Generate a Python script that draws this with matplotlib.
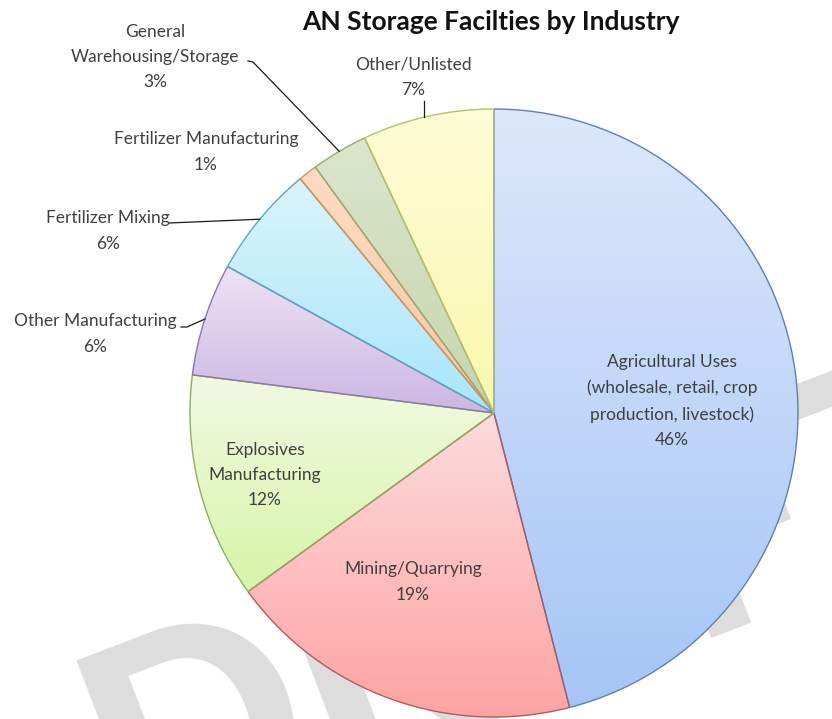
import numpy as np
import matplotlib
matplotlib.use("Agg")
import matplotlib.pyplot as plt
from matplotlib.colors import LinearSegmentedColormap

# Share of ammonium nitrate storage facilities by industry (percent)
categories = [
    "Agricultural Uses\n(wholesale, retail, crop\nproduction, livestock)",
    "Mining/Quarrying",
    "Explosives\nManufacturing",
    "Other Manufacturing",
    "Fertilizer Mixing",
    "Fertilizer Manufacturing",
    "General\nWarehousing/Storage",
    "Other/Unlisted",
]
shares = [46, 19, 12, 6, 6, 1, 3, 7]

top_colors = ["#dde8fb", "#fcdcdc", "#f2f9e4", "#ede3f5", "#dcf4fc", "#fcdcc4", "#dbe5cc", "#fdfdd6"]
bottom_colors = ["#a6c5f6", "#ffa2a2", "#d6f5a6", "#ccb6e3", "#a6e6fa", "#f9c8a2", "#c6d6ad", "#fbf7ae"]
edge_colors = ["#5b80b8", "#b35a5a", "#8fae62", "#8a76a8", "#5aa6c2", "#e0904e", "#98aa78", "#b6c070"]

W, H = 832, 719
fig = plt.figure(figsize=(W / 100, H / 100), dpi=100)
ax = fig.add_axes([0, 0, 1, 1])

cx, cy, R = 494, H - 413, 304

wedges, _ = ax.pie(
    shares, startangle=90, counterclock=False, center=(cx, cy), radius=R,
    colors=["none"] * len(shares), wedgeprops=dict(linewidth=1.0),
)

grad = np.linspace(0, 1, 256).reshape(-1, 1)
for w, c_top, c_bot, ec in zip(wedges, top_colors, bottom_colors, edge_colors):
    w.set_facecolor("none")
    w.set_edgecolor(ec)
    w.set_zorder(4)
    v = w.get_path().vertices
    x0, x1 = v[:, 0].min(), v[:, 0].max()
    y0, y1 = v[:, 1].min(), v[:, 1].max()
    cmap = LinearSegmentedColormap.from_list("fill", [c_bot, c_top])
    im = ax.imshow(grad, cmap=cmap, extent=(x0, x1, y0, y1), origin="lower",
                   aspect="auto", zorder=3, interpolation="bilinear")
    im.set_clip_path(w)

# background watermark
ax.text(128, -134, "DRAFT", rotation=21, rotation_mode="anchor",
        color="#dddddd", fontsize=205, fontweight="black", family="Lato",
        ha="left", va="baseline", zorder=1)

txt = dict(family="Lato", fontsize=12.5, color="#404040", ha="center",
           va="center", linespacing=1.72, zorder=6)

def wedge_point(i):
    w = wedges[i]
    mid = np.deg2rad((w.theta1 + w.theta2) / 2)
    return cx + R * np.cos(mid), cy + R * np.sin(mid)

# labels inside the larger slices
ax.text(672, H - 401, categories[0] + "\n46%", **txt)
ax.text(413, H - 582, categories[1] + "\n19%", **txt)
ax.text(265, H - 475, categories[2] + "\n12%", **txt)

# outside labels with leader lines
ax.text(95, H - 334, categories[3] + "\n6%", **txt)
ax.text(108, H - 231, categories[4] + "\n6%", **txt)
ax.text(206, H - 152, categories[5] + "\n1%", **txt)
ax.text(155, H - 57, categories[6] + "\n3%", **txt)
ax.text(413, H - 77, categories[7] + "\n7%", **txt)

lk = dict(color="#1a1a1a", lw=0.9, zorder=5)
px, py = wedge_point(3)
ax.plot([181, 187, px], [H - 327, H - 327, py], **lk)
px, py = wedge_point(4)
ax.plot([169, px], [H - 223, py], **lk)
px, py = wedge_point(6)
ax.plot([248, 253, px], [H - 61, H - 62, py], **lk)
px, py = wedge_point(7)
ax.plot([px - 4, px - 4], [H - 101, py - 1], **lk)

ax.text(491, H - 22, "AN Storage Facilties by Industry", family="Lato",
        fontsize=19, fontweight="bold", color="#111111", ha="center",
        va="center", zorder=6)

ax.set_xlim(0, W)
ax.set_ylim(0, H)
ax.axis("off")
fig.savefig("out.png", dpi=100)
